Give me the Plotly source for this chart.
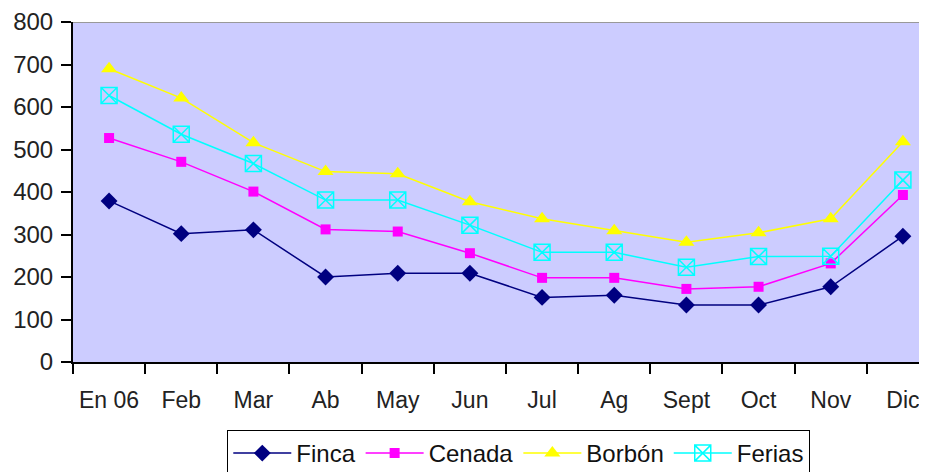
import plotly.graph_objects as go

months = ["En 06", "Feb", "Mar", "Ab", "May", "Jun", "Jul", "Ag", "Sept", "Oct", "Nov", "Dic"]
finca = [379, 302, 311, 200, 209, 209, 152, 157, 134, 134, 177, 296]
cenada = [527, 471, 401, 312, 307, 256, 198, 198, 172, 177, 232, 393]
borbon = [690, 621, 516, 448, 443, 377, 337, 309, 282, 304, 337, 518]
ferias = [627, 536, 467, 381, 381, 322, 258, 258, 223, 248, 249, 428]
y_ticks = [0, 100, 200, 300, 400, 500, 600, 700, 800]

fig = go.Figure()
fig.add_trace(go.Scatter(x=months, y=finca, name="Finca", mode="lines+markers",
                         line=dict(color="#000080", width=1.5),
                         marker=dict(symbol="diamond", size=13, color="#000080")))
fig.add_trace(go.Scatter(x=months, y=cenada, name="Cenada", mode="lines+markers",
                         line=dict(color="#FF00FF", width=1.5),
                         marker=dict(symbol="square", size=10, color="#FF00FF")))
fig.add_trace(go.Scatter(x=months, y=borbon, name="Borbón", mode="lines+markers",
                         line=dict(color="#FFFF00", width=1.5),
                         marker=dict(symbol="triangle-up", size=14, color="#FFFF00")))
fig.add_trace(go.Scatter(x=months, y=ferias, name="Ferias", mode="lines+markers",
                         line=dict(color="#00FFFF", width=1.5),
                         marker=dict(symbol="square-x-open", size=16, color="#00FFFF",
                                     line=dict(width=1.5, color=["#FFFF00"] + ["#00FFFF"] * 11))))

fig.add_shape(type="line", xref="paper", yref="y", x0=0, x1=1, y0=800, y1=800,
              line=dict(color="#999999", width=2))

fig.update_layout(
    width=919, height=464,
    margin=dict(l=65, r=0, t=14, b=110, autoexpand=False),
    paper_bgcolor="white", plot_bgcolor="#CCCCFF",
    font=dict(family="Arial, Liberation Sans", size=23, color="#222222"),
    showlegend=True,
    legend=dict(orientation="h", x=0.522, xanchor="center", y=-0.2, yanchor="top",
                bordercolor="black", borderwidth=1, bgcolor="white",
                font=dict(size=24, color="#111111"), itemwidth=58,
                tracegroupgap=0),
)
fig.update_xaxes(type="category", range=[-0.5, 11.334], showgrid=False,
                 showline=True, linecolor="black", linewidth=2,
                 ticks="outside", tickson="boundaries", ticklen=10, tickcolor="black", tickwidth=2,
                 tickfont=dict(size=23), tickangle=0, ticklabelstandoff=16, automargin=False)
fig.update_yaxes(range=[0, 800], tickvals=y_ticks, showgrid=False, zeroline=False,
                 showline=True, linecolor="black", linewidth=2,
                 ticks="outside", ticklen=10, tickcolor="black", tickwidth=2,
                 tickfont=dict(size=24), ticklabelstandoff=3, automargin=False)

fig.write_html("out.html")
